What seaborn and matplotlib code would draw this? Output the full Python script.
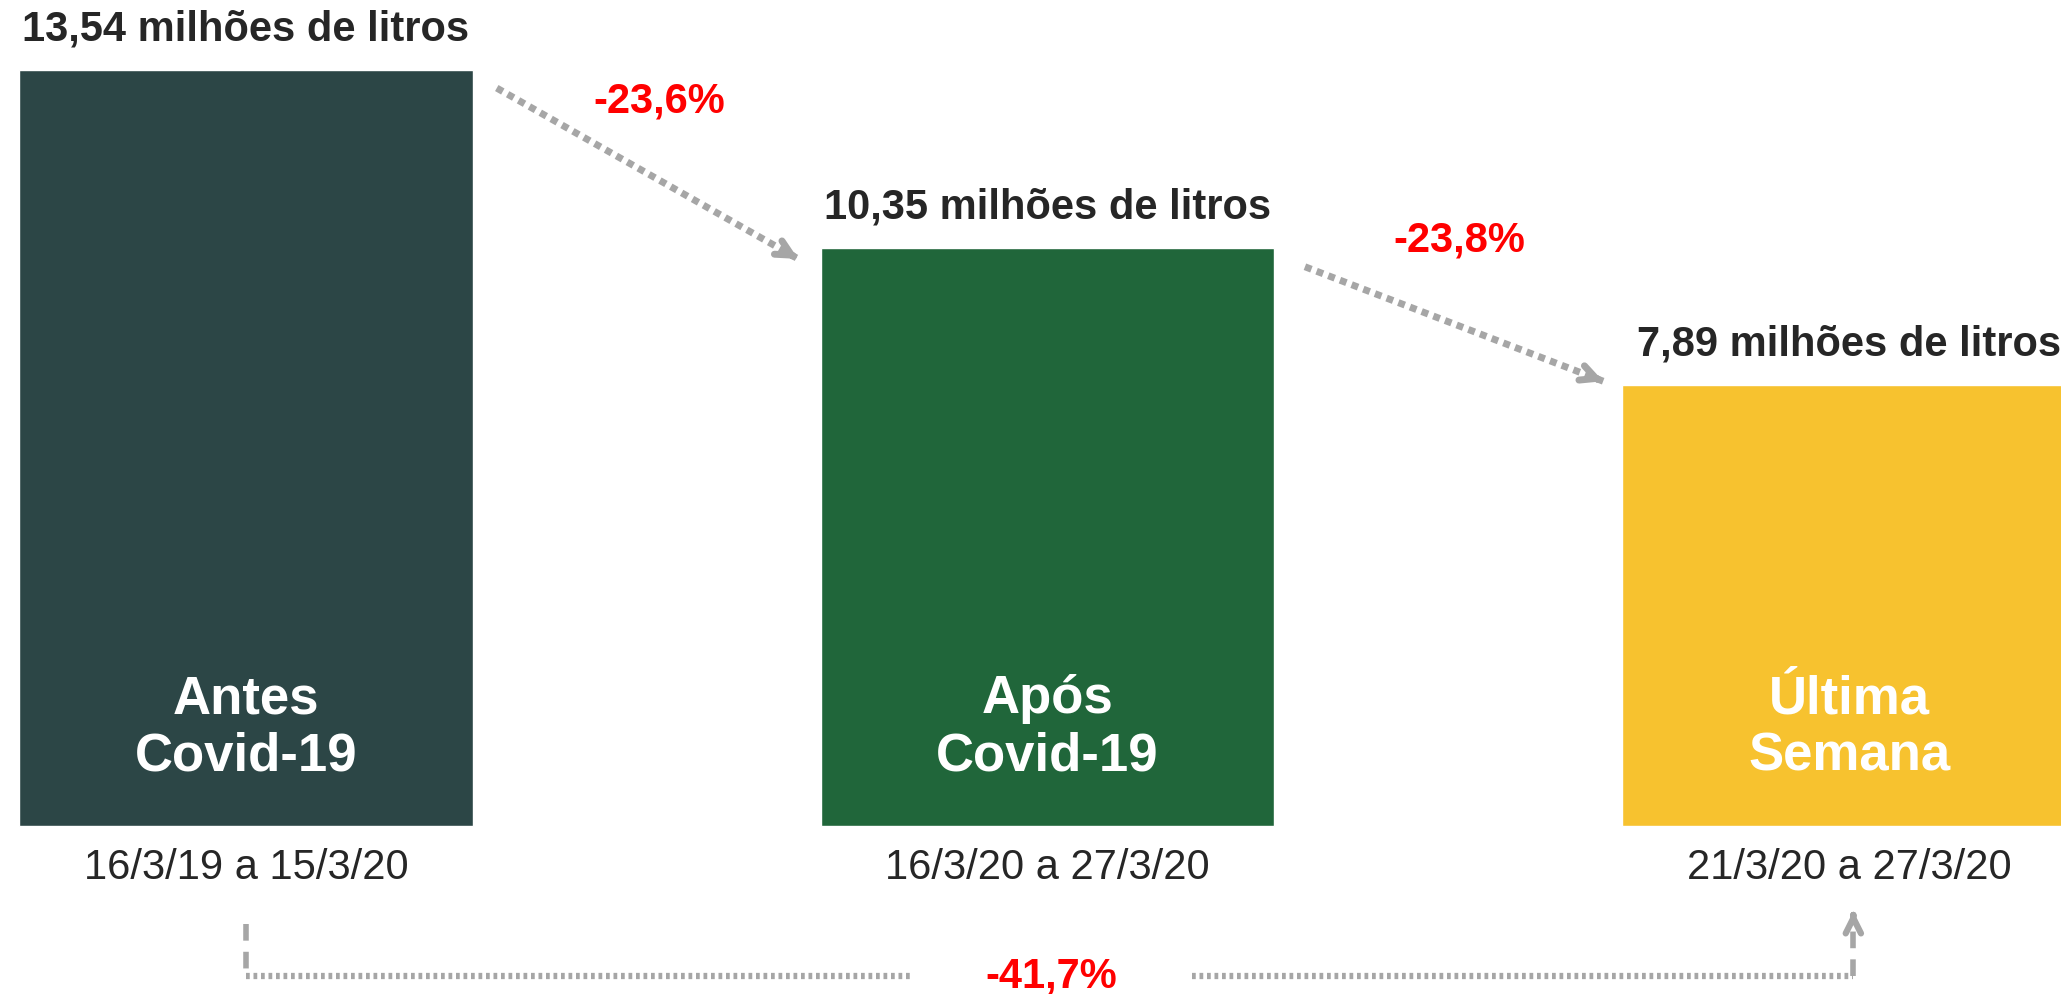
import matplotlib
matplotlib.use("Agg")
import matplotlib.pyplot as plt
import seaborn as sns

# data
periods = ["Antes\nCovid-19", "Após\nCovid-19", "Última\nSemana"]
volumes = [13.54, 10.35, 7.89]
volume_labels = ["13,54 milhões de litros", "10,35 milhões de litros", "7,89 milhões de litros"]
date_ranges = ["16/3/19 a 15/3/20", "16/3/20 a 27/3/20", "21/3/20 a 27/3/20"]
changes = ["-23,6%", "-23,8%", "-41,7%"]
bar_colors = ["#2C4646", "#20663A", "#F7C22F"]

sns.set_style("white")
plt.rcParams["font.family"] = ["Liberation Sans", "DejaVu Sans"]

fig = plt.figure(figsize=(20.61, 9.94), dpi=100)
ax = fig.add_axes([0, 0, 1, 1])

sns.barplot(x=periods, y=volumes, hue=periods, palette=bar_colors,
            width=0.566, saturation=1, legend=False, ax=ax)

ax.set_xlim(-0.3066, 2.264)
ax.set_ylim(-3.014, 14.787)
ax.axis("off")

dark = "#262626"
gray = "#A6A6A6"
red = "#FF0000"

for i, (v, lab, d, p) in enumerate(zip(volumes, volume_labels, date_ranges, periods)):
    ax.text(i, v + 0.72, lab, ha="center", va="center", fontsize=30,
            fontweight="bold", color=dark)
    ax.text(i, -0.75, d, ha="center", va="center", fontsize=30, color=dark)
    ax.text(i, 1.75, p, ha="center", va="center", fontsize=38,
            fontweight="bold", color="white", linespacing=1.2)

# change labels
ax.text(0.516, 12.97, changes[0], ha="center", va="center", fontsize=30,
        fontweight="bold", color=red)
ax.text(1.513, 10.48, changes[1], ha="center", va="center", fontsize=30,
        fontweight="bold", color=red)
ax.text(1.005, -2.7, changes[2], ha="center", va="center", fontsize=30,
        fontweight="bold", color=red)

head = "->,head_length=1.1,head_width=0.55"


def dotted_arrow(x0, y0, x1, y1):
    ax.plot([x0, x1], [y0, y1], color=gray, lw=5, linestyle=(0, (1, 0.8)),
            solid_capstyle="butt")
    # solid head
    dx, dy = x1 - x0, y1 - y0
    ax.annotate("", xy=(x1, y1), xytext=(x1 - dx * 0.02, y1 - dy * 0.02),
                arrowprops=dict(arrowstyle=head, color=gray, lw=5,
                                shrinkA=0, shrinkB=0))


dotted_arrow(0.313, 13.21, 0.689, 10.15)
dotted_arrow(1.321, 10.01, 1.693, 7.96)

# bottom connector
y_bot = -2.684
ax.plot([0, 0], [-1.766, y_bot], color=gray, lw=4, linestyle=(0, (3, 2)))
ax.plot([0, 0.828], [y_bot, y_bot], color=gray, lw=4.5, linestyle=(0, (0.6, 0.6)))
ax.plot([1.180, 2.005], [y_bot, y_bot], color=gray, lw=4.5, linestyle=(0, (0.6, 0.6)))
ax.plot([2.005, 2.005], [y_bot, -1.6], color=gray, lw=4, linestyle=(0, (3, 2)))
ax.annotate("", xy=(2.005, -1.53), xytext=(2.005, -1.62),
            arrowprops=dict(arrowstyle=head, color=gray, lw=4.5,
                            shrinkA=0, shrinkB=0))

fig.savefig("out.png", dpi=100)
